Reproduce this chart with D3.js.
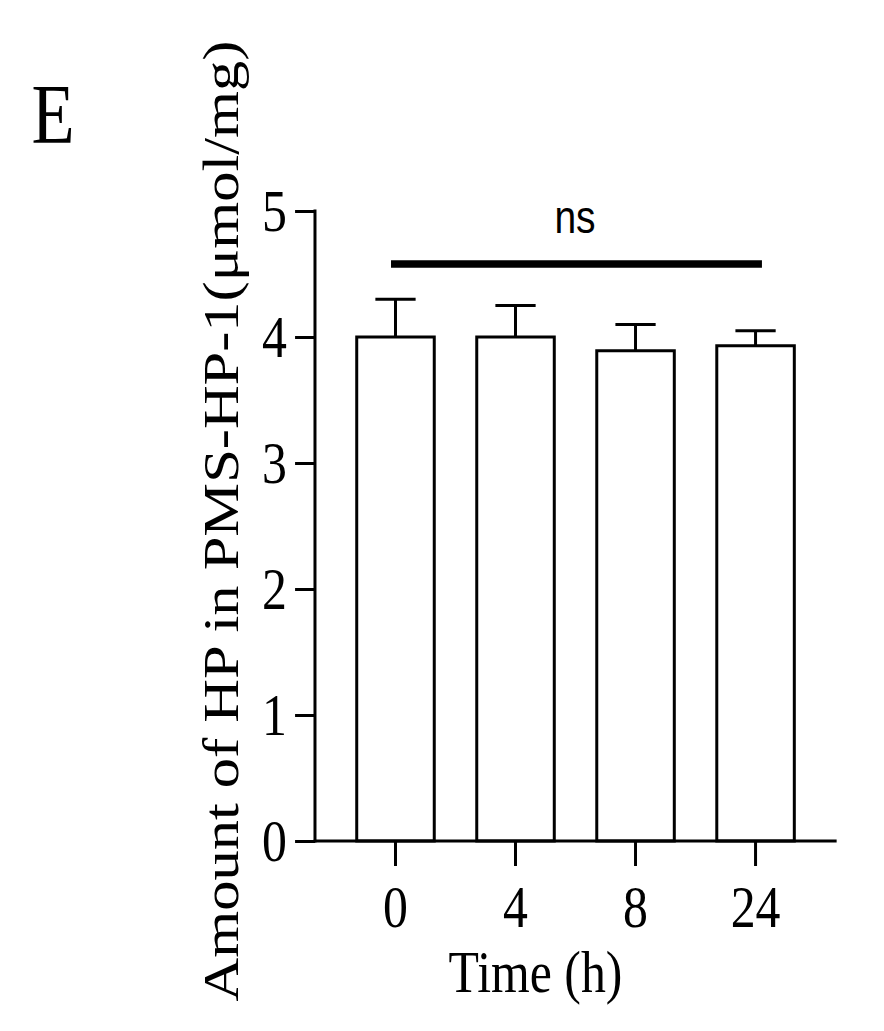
<!DOCTYPE html>
<html><head><meta charset="utf-8">
<script src="https://cdn.jsdelivr.net/npm/d3@7"></script>
<style>body{margin:0;background:#fff}</style>
</head><body>
<svg id="c" width="884" height="1031"></svg>
<script>
const categories = ["0", "4", "8", "24"];
const means = [4.0, 4.0, 3.89, 3.93];
const errors = [0.30, 0.25, 0.21, 0.12];
const yTicks = [0, 1, 2, 3, 4, 5];
const panelLabel = "E";
const xTitle = "Time (h)";
const yTitle = "Amount of HP in PMS-HP-1(\u03bcmol/mg)";
const sigLabel = "ns";

const SX = 0.83;
const SERIF = "'Liberation Serif','Times New Roman',serif";
const SANS = "'Liberation Sans',Arial,sans-serif";

const svg = d3.select("#c");
svg.append("rect").attr("width", 884).attr("height", 1031).attr("fill", "#fff");
const g = svg.append("g").attr("transform", `scale(${SX},1)`);

const x = d3.scaleBand().domain(categories).range([404.2, 982.6])
  .paddingInner(0.354).paddingOuter(0.177);
const y = d3.scaleLinear().domain([0, 5]).range([841, 211]);
const axisX0 = 379.5, axisX1 = 1008;

function strokeStyle(sel, w) {
  sel.attr("stroke", "#000").attr("stroke-width", w).attr("vector-effect", "non-scaling-stroke");
}

// Bars
const bars = categories.map((c, i) => ({c, m: means[i], e: errors[i]}));
g.selectAll("rect.bar").data(bars).enter().append("rect").attr("class", "bar")
  .attr("x", d => x(d.c)).attr("width", x.bandwidth())
  .attr("y", d => y(d.m)).attr("height", d => y(0) - y(d.m))
  .attr("fill", "#fff").call(strokeStyle, 3);

// Error bars (upper only)
const capW = 48.5;
g.selectAll("line.err").data(bars).enter().append("line").attr("class", "err")
  .attr("x1", d => x(d.c) + x.bandwidth() / 2).attr("x2", d => x(d.c) + x.bandwidth() / 2)
  .attr("y1", d => y(d.m)).attr("y2", d => y(d.m + d.e)).call(strokeStyle, 3);
g.selectAll("line.cap").data(bars).enter().append("line").attr("class", "cap")
  .attr("x1", d => x(d.c) + x.bandwidth() / 2 - capW / 2).attr("x2", d => x(d.c) + x.bandwidth() / 2 + capW / 2)
  .attr("y1", d => y(d.m + d.e)).attr("y2", d => y(d.m + d.e)).call(strokeStyle, 3);

// Y axis
const ya = g.append("g").attr("transform", `translate(${axisX0},0)`)
  .call(d3.axisLeft(y).tickValues(yTicks).tickSize(24).tickPadding(10).tickFormat(d3.format("d")));
ya.select(".domain").remove();
ya.selectAll("line").call(strokeStyle, 3);
ya.selectAll("text").attr("font-family", SERIF).attr("font-size", 60).attr("fill", "#000");
g.append("line").attr("x1", axisX0).attr("x2", axisX0).attr("y1", y(5) - 1.5).attr("y2", y(0) + 1.5).call(strokeStyle, 3);

// X axis
const xa = g.append("g").attr("transform", `translate(0,${y(0)})`)
  .call(d3.axisBottom(x).tickSize(25).tickPadding(18));
xa.select(".domain").remove();
xa.selectAll("line").call(strokeStyle, 3);
xa.selectAll("text").attr("font-family", SERIF).attr("font-size", 60).attr("fill", "#000");
g.append("line").attr("x1", axisX0 - 1.5).attr("x2", axisX1).attr("y1", y(0)).attr("y2", y(0)).call(strokeStyle, 3);

// Significance line
const c0 = x(categories[0]) + x.bandwidth() / 2;
const c3 = x(categories[categories.length - 1]) + x.bandwidth() / 2;
g.append("line").attr("x1", c0 - 5.4).attr("x2", c3 + 7.7).attr("y1", 264).attr("y2", 264)
  .call(strokeStyle, 7.5);
g.append("text").attr("x", 575 / SX).attr("y", 233)
  .attr("text-anchor", "middle").attr("font-family", SANS).attr("font-size", 47)
  .attr("fill", "#000").text(sigLabel);

// Titles
g.append("text").attr("x", 535.5 / SX).attr("y", 992).attr("text-anchor", "middle")
  .attr("font-family", SERIF).attr("font-size", 60).attr("fill", "#000").text(xTitle);
g.append("text").attr("transform", `translate(${238 / SX},521) rotate(-90)`)
  .attr("text-anchor", "middle").attr("font-family", SERIF).attr("font-size", 60.5)
  .attr("fill", "#000").text(yTitle);
g.append("text").attr("x", 38).attr("y", 143).attr("font-family", SERIF).attr("font-size", 85)
  .attr("fill", "#000").text(panelLabel);
</script>
</body></html>
